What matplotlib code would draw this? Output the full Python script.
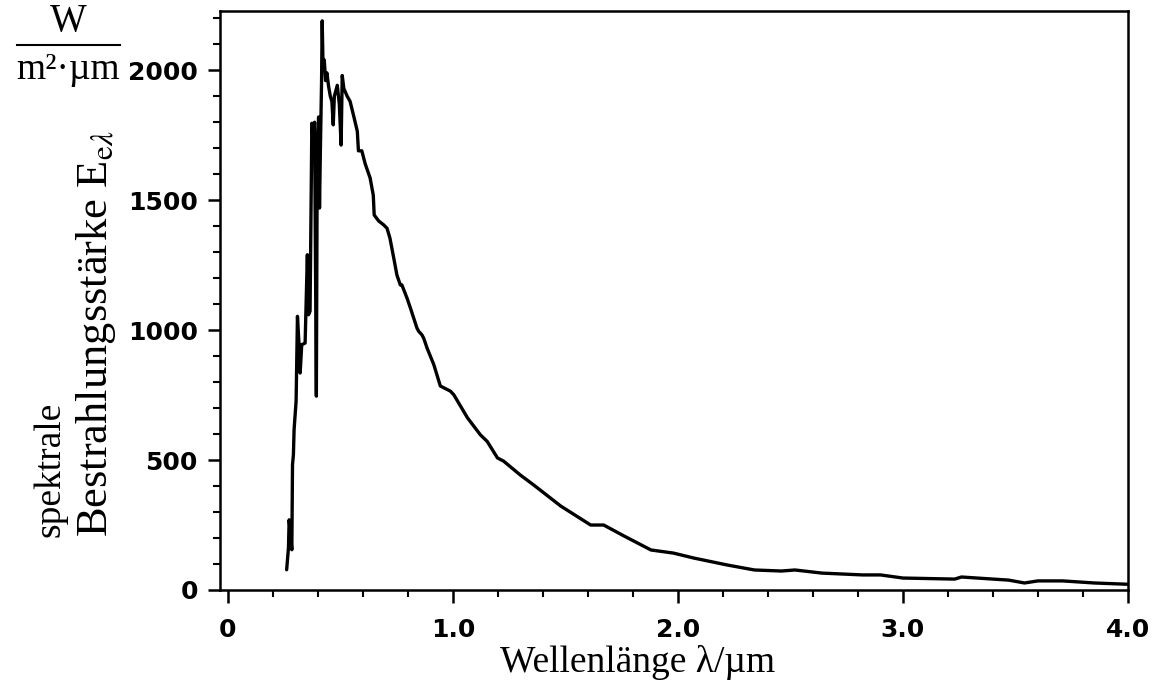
import numpy as np
import matplotlib
matplotlib.use('Agg')
import matplotlib.pyplot as plt
from matplotlib.lines import Line2D

# spectral irradiance (wavelength in um, W/(m^2 um))
wl = [0.261, 0.269, 0.272, 0.284, 0.287, 0.291, 0.294, 0.303, 0.309, 0.316,
      0.321, 0.328, 0.343, 0.353, 0.358, 0.365, 0.373, 0.379, 0.385, 0.393,
      0.397, 0.403, 0.407, 0.411, 0.416, 0.419, 0.423, 0.428, 0.434, 0.440,
      0.447, 0.455, 0.462, 0.468, 0.473, 0.486, 0.495, 0.503, 0.508, 0.515,
      0.530, 0.543, 0.560, 0.575, 0.580, 0.595, 0.610, 0.632, 0.646, 0.650,
      0.670, 0.692, 0.707, 0.720, 0.737, 0.751, 0.766, 0.773, 0.796, 0.811,
      0.840, 0.848, 0.862, 0.870, 0.885, 0.915, 0.944, 0.989, 1.004, 1.065,
      1.122, 1.152, 1.198, 1.225, 1.300, 1.359, 1.479, 1.612, 1.670, 1.760,
      1.880, 1.980, 2.070, 2.220, 2.340, 2.460, 2.520, 2.640, 2.820, 2.900,
      3.000, 3.230, 3.260, 3.470, 3.540, 3.600, 3.710, 3.850, 4.000]
irr = [78, 162, 270, 155, 482, 520, 617, 727, 1053, 944,
       835, 944, 950, 1290, 1059, 1073, 1796, 1720, 1800, 746,
       1700, 1820, 1470, 1700, 1950, 2190, 2000, 2040, 1960, 1990,
       1940, 1900, 1880, 1790, 1900, 1942, 1870, 1712, 1980, 1930,
       1900, 1880, 1820, 1765, 1690, 1690, 1640, 1585, 1519, 1443,
       1420, 1405, 1392, 1354, 1277, 1212, 1174, 1174, 1123, 1085,
       1008, 995, 982, 969, 931, 867, 785, 765, 751, 662,
       597, 572, 508, 496, 442, 404, 323, 250, 250, 208,
       154, 142, 123, 96, 77, 73, 77, 65, 58, 58,
       46, 42, 50, 38, 27, 35, 35, 27, 22]

x_major = [0, 1.0, 2.0, 3.0, 4.0]
x_labels = ['0', '1.0', '2.0', '3.0', '4.0']
y_major = [0, 500, 1000, 1500, 2000]

serif = 'Liberation Serif'
plt.rcParams['mathtext.fontset'] = 'stix'

fig = plt.figure(figsize=(11.6, 6.87), dpi=100)
ax = fig.add_axes([0.1897, 0.1412, 0.7827, 0.8428])

ax.plot(wl, irr, color='black', lw=2.4, solid_joinstyle='round',
        solid_capstyle='round')

ax.set_xlim(-0.035, 4.0)
ax.set_ylim(0, 2228)

ax.set_xticks(x_major)
ax.set_xticklabels(x_labels)
ax.set_xticks(np.arange(0, 4.01, 0.2), minor=True)
ax.set_yticks(y_major)
ax.set_yticks(np.arange(0, 2201, 100), minor=True)

for s in ax.spines.values():
    s.set_linewidth(1.8)

ax.tick_params(axis='both', which='major', direction='out', length=9, width=1.8,
               labelsize=18)
ax.tick_params(axis='both', which='minor', direction='out', length=5, width=1.5)
ax.tick_params(axis='y', which='major', pad=7)
ax.tick_params(axis='x', which='major', pad=11)
for lab in ax.get_xticklabels() + ax.get_yticklabels():
    lab.set_fontfamily('DejaVu Sans')
    lab.set_fontweight('bold')

fig.text(638 / 1160, 1 - 663 / 687, 'Wellenlänge λ/µm', family=serif,
         fontsize=27, ha='center', va='center')

# y label: two rotated lines, both starting at the same height
fig.text(50 / 1160, 1 - 537 / 687, 'spektrale', family=serif, fontsize=27,
         rotation=90, ha='center', va='bottom')
fig.text(96 / 1160, 1 - 537 / 687,
         'Bestrahlungsstärke E$_{\\mathrm{e}\\lambda}$', family=serif,
         fontsize=32, rotation=90, ha='center', va='bottom')

# unit as a fraction at the top left
fig.text(68 / 1160, 1 - 22 / 687, 'W', family=serif, fontsize=28,
         ha='center', va='center')
fig.text(68 / 1160, 1 - 70 / 687, 'm²·µm', family=serif, fontsize=27,
         ha='center', va='center')
fig.add_artist(Line2D([17 / 1160, 120 / 1160], [1 - 45 / 687, 1 - 45 / 687],
                      color='black', lw=1.5, transform=fig.transFigure))

fig.savefig('out.png', dpi=100)
